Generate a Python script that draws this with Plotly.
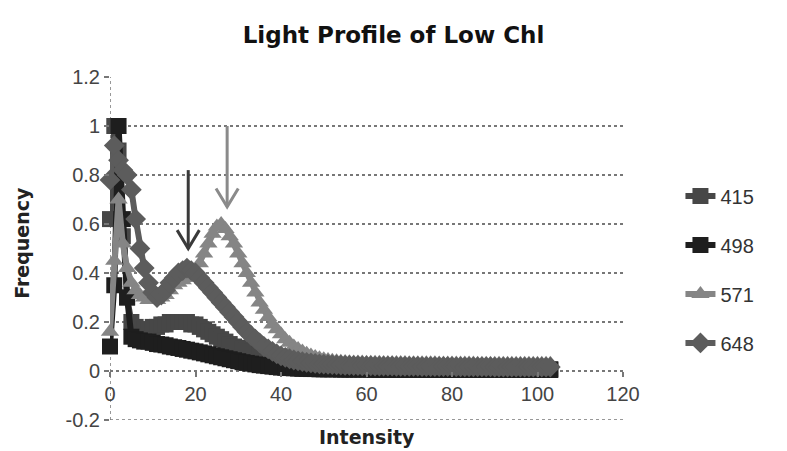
import plotly.graph_objects as go

# Intensity bins (x) and normalised frequency for each wavelength
intensity = list(range(0, 104))

freq_415 = [
    0.62, 1.00, 0.90, 0.55, 0.30, 0.20, 0.18, 0.17, 0.17, 0.17,
    0.18, 0.18, 0.19, 0.19, 0.20, 0.20, 0.20, 0.20, 0.20, 0.19,
    0.19, 0.18, 0.17, 0.16, 0.15, 0.14, 0.13, 0.12, 0.11, 0.10,
    0.095, 0.09, 0.085, 0.08, 0.075, 0.07, 0.065, 0.06, 0.055, 0.05,
    0.046, 0.042, 0.039, 0.036, 0.034, 0.032, 0.030, 0.028, 0.027, 0.026,
    0.025, 0.024, 0.023, 0.022, 0.021, 0.020, 0.019, 0.019, 0.018, 0.018,
    0.017, 0.017, 0.016, 0.016, 0.016, 0.015, 0.015, 0.015, 0.014, 0.014,
    0.014, 0.014, 0.013, 0.013, 0.013, 0.013, 0.012, 0.012, 0.012, 0.012,
    0.012, 0.011, 0.011, 0.011, 0.011, 0.011, 0.010, 0.010, 0.010, 0.010,
    0.010, 0.010, 0.010, 0.009, 0.009, 0.009, 0.009, 0.009, 0.009, 0.009,
    0.009, 0.008, 0.008, 0.008,
]

freq_498 = [
    0.10, 0.35, 1.00, 0.62, 0.30, 0.14, 0.13, 0.125, 0.12, 0.12,
    0.115, 0.110, 0.108, 0.105, 0.100, 0.097, 0.094, 0.090, 0.087, 0.083,
    0.080, 0.076, 0.072, 0.068, 0.064, 0.060, 0.056, 0.052, 0.048, 0.044,
    0.040, 0.036, 0.033, 0.030, 0.027, 0.024, 0.022, 0.020, 0.018, 0.016,
    0.014, 0.013, 0.012, 0.011, 0.010, 0.009, 0.009, 0.008, 0.008, 0.007,
    0.007, 0.007, 0.007, 0.007, 0.006, 0.006, 0.006, 0.006, 0.006, 0.006,
    0.006, 0.006, 0.005, 0.005, 0.005, 0.005, 0.005, 0.005, 0.005, 0.005,
    0.005, 0.005, 0.005, 0.005, 0.005, 0.005, 0.005, 0.005, 0.005, 0.005,
    0.004, 0.004, 0.004, 0.004, 0.004, 0.004, 0.004, 0.004, 0.004, 0.004,
    0.004, 0.004, 0.004, 0.004, 0.004, 0.004, 0.004, 0.004, 0.004, 0.004,
    0.004, 0.004, 0.004, 0.004,
]

freq_571 = [
    0.16, 0.45, 0.70, 0.52, 0.42, 0.36, 0.33, 0.31, 0.30, 0.29,
    0.29, 0.29, 0.30, 0.31, 0.33, 0.35, 0.36, 0.37, 0.38, 0.39,
    0.41, 0.44, 0.48, 0.52, 0.56, 0.59, 0.60, 0.58, 0.55, 0.52,
    0.48, 0.44, 0.40, 0.36, 0.32, 0.28, 0.25, 0.22, 0.19, 0.17,
    0.150, 0.130, 0.115, 0.100, 0.090, 0.080, 0.070, 0.063, 0.057, 0.052,
    0.048, 0.045, 0.042, 0.040, 0.038, 0.037, 0.036, 0.035, 0.035, 0.035,
    0.034, 0.034, 0.034, 0.034, 0.033, 0.033, 0.033, 0.033, 0.033, 0.033,
    0.032, 0.032, 0.032, 0.032, 0.032, 0.032, 0.032, 0.031, 0.031, 0.031,
    0.031, 0.031, 0.031, 0.031, 0.031, 0.031, 0.030, 0.030, 0.030, 0.030,
    0.030, 0.030, 0.030, 0.030, 0.030, 0.030, 0.030, 0.030, 0.030, 0.030,
    0.030, 0.030, 0.030, 0.030,
]

freq_648 = [
    0.78, 0.92, 0.86, 0.82, 0.80, 0.74, 0.62, 0.50, 0.42, 0.36,
    0.32, 0.30, 0.31, 0.33, 0.36, 0.38, 0.40, 0.41, 0.42, 0.41,
    0.40, 0.38, 0.36, 0.34, 0.32, 0.30, 0.28, 0.26, 0.24, 0.22,
    0.20, 0.18, 0.16, 0.145, 0.13, 0.115, 0.10, 0.09, 0.08, 0.07,
    0.062, 0.056, 0.050, 0.045, 0.041, 0.038, 0.035, 0.033, 0.031, 0.029,
    0.028, 0.027, 0.026, 0.025, 0.024, 0.023, 0.023, 0.022, 0.022, 0.021,
    0.021, 0.021, 0.020, 0.020, 0.020, 0.020, 0.020, 0.019, 0.019, 0.019,
    0.019, 0.019, 0.019, 0.018, 0.018, 0.018, 0.018, 0.018, 0.018, 0.018,
    0.018, 0.017, 0.017, 0.017, 0.017, 0.017, 0.017, 0.017, 0.017, 0.017,
    0.016, 0.016, 0.016, 0.016, 0.016, 0.016, 0.016, 0.016, 0.016, 0.016,
    0.016, 0.016, 0.016, 0.016,
]

series_names = ["415", "498", "571", "648"]
series_values = [freq_415, freq_498, freq_571, freq_648]
series_colors = ["#474747", "#1e1e1e", "#858585", "#5c5c5c"]
series_symbols = ["square", "square", "triangle-up", "diamond"]

y_ticks = [-0.2, 0, 0.2, 0.4, 0.6, 0.8, 1.0, 1.2]
y_tick_text = ["-0.2", "0", "0.2", "0.4", "0.6", "0.8", "1", "1.2"]
x_ticks = [0, 20, 40, 60, 80, 100, 120]

# Downward pointer arrows: (x, top, tip, colour)
arrows = [
    (18.3, 0.82, 0.50, "#3a3a3a"),
    (27.4, 1.00, 0.67, "#8a8a8a"),
]

fig = go.Figure()
for name, vals, col, sym in zip(series_names, series_values, series_colors, series_symbols):
    fig.add_trace(go.Scatter(
        x=intensity, y=vals, name=name, mode="lines+markers",
        legendgroup=name,
        line=dict(color=col, width=6),
        marker=dict(symbol=sym, size=16, color=col),
        cliponaxis=False,
    ))

grid_style = dict(color="#777777", width=1.5, dash="dot")
shapes = [
    # vertical axis line at x = 0 and the lower edge gridline
    dict(type="line", xref="x", yref="y", x0=0, x1=0, y0=-0.2, y1=1.2,
         line=grid_style, layer="below"),
    dict(type="line", xref="x", yref="y", x0=0, x1=120, y0=-0.2, y1=-0.2,
         line=grid_style, layer="below"),
]
for ax, top, tip, col in arrows:
    shapes.append(dict(type="line", xref="x", yref="y", x0=ax, x1=ax, y0=top, y1=tip,
                       line=dict(color=col, width=3), layer="above"))
    shapes.append(dict(type="path", xref="x", yref="y",
                       path=f"M {ax - 2.6} {tip + 0.075} L {ax} {tip} L {ax + 2.6} {tip + 0.075}",
                       line=dict(color=col, width=3), layer="above"))

fig.update_layout(
    width=787, height=451,
    margin=dict(l=110, r=164, t=77, b=31),
    paper_bgcolor="white", plot_bgcolor="white",
    title=dict(text="<b>Light Profile of Low Chl</b>", x=0.5, xref="container",
               y=1 - 35 / 451, yref="container", yanchor="middle", xanchor="center",
               font=dict(family="DejaVu Sans", size=23, color="#111111")),
    showlegend=True,
    legend=dict(x=1.112, y=0.71, xanchor="left", yanchor="top",
                tracegroupgap=20, font=dict(family="Liberation Sans", size=20, color="#333333"),
                bgcolor="rgba(0,0,0,0)"),
    shapes=shapes,
    annotations=[
        dict(text="<b>Intensity</b>", xref="paper", yref="paper", x=0.5, y=-0.05,
             showarrow=False, xanchor="center", yanchor="middle",
             font=dict(family="DejaVu Sans", size=19, color="#222222")),
        dict(text="<b>Frequency</b>", xref="paper", yref="paper", x=-0.172, y=0.516,
             showarrow=False, xanchor="center", yanchor="middle", textangle=-90,
             font=dict(family="DejaVu Sans", size=19, color="#222222")),
    ],
)

fig.update_xaxes(
    range=[0, 120], tickvals=x_ticks, showgrid=False, zeroline=False, showline=False,
    anchor="free", position=0.2 / 1.4,
    ticks="outside", ticklen=5, tickcolor="#777777", tickwidth=1.5,
    tickfont=dict(family="Liberation Sans", size=20, color="#444444"),
)
fig.update_yaxes(
    range=[-0.2, 1.2], tickvals=y_ticks, ticktext=y_tick_text, showgrid=True,
    gridcolor="#777777", gridwidth=1.5, griddash="dot", zeroline=False, showline=False,
    ticks="outside", ticklen=5, tickcolor="#777777", tickwidth=1.5,
    tickfont=dict(family="Liberation Sans", size=20, color="#444444"),
)

fig.write_html("out.html")
